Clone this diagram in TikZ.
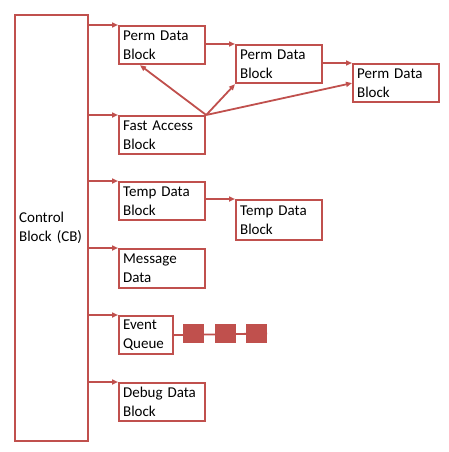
\documentclass[tikz,border=0pt]{standalone}
\usepackage{fontspec}
\setmainfont{Carlito}
\usetikzlibrary{arrows.meta,calc}
\definecolor{cbred}{HTML}{C0504D}
\begin{document}
\begin{tikzpicture}[x=1pt,y=-1pt,
  box/.style={draw=cbred,line width=2.2pt,fill=white,anchor=north west,
    minimum width=86pt,minimum height=38pt,inner xsep=4pt,inner ysep=0pt,
    text width=78pt,align=left,font=\fontsize{15pt}{19pt}\selectfont},
  conn/.style={draw=cbred,line width=1.8pt,-{Triangle[length=6pt,width=5pt]}},
  sq/.style={fill=cbred,draw=none,minimum width=21pt,minimum height=19pt,inner sep=0pt}]
\useasboundingbox (0,0) rectangle (449,452);
\node[box,minimum width=73pt,minimum height=426pt,text width=65pt] (cb) at (14,14) {Control\\Block (CB)};
\node[box] (pd1) at (118,25) {Perm Data\\Block};
\node[box] (pd2) at (235,44) {Perm Data\\Block};
\node[box] (pd3) at (352,63) {Perm Data\\Block};
\node[box] (fa) at (118,115) {Fast Access\\Block};
\node[box] (td1) at (118,181) {Temp Data\\Block};
\node[box,minimum height=40pt] (td2) at (235,199) {Temp Data\\Block};
\node[box,minimum height=39pt] (md) at (118,248) {Message\\Data};
\node[box,minimum width=54pt,text width=46pt] (eq) at (118,315) {Event\\Queue};
\node[box] (dd) at (118,382) {Debug Data\\Block};
\node[sq] (s1) at (193.5,333.5) {};
\node[sq] (s2) at (225,333.5) {};
\node[sq] (s3) at (256.5,333.5) {};
\draw[cbred,line width=1.8pt] (eq.east) -- (s3.east);
\node[sq] at (s1) {};
\node[sq] at (s2) {};
\node[sq] at (s3) {};
\foreach \n in {pd1,fa,td1,md,eq,dd}
  \draw[conn] (\n.north west -| cb.east) -- (\n.north west);
\draw[conn] (pd1.east |- pd2.north west) -- (pd2.north west);
\draw[conn] (pd2.east |- pd3.north west) -- (pd3.north west);
\draw[conn] (td1.east |- td2.north west) -- (td2.north west);
\draw[conn] (fa.north east) -- ($(pd1.south west)!0.25!(pd1.south east)$);
\draw[conn] (fa.north east) -- (pd2.south west);
\draw[conn] (fa.north east) -- (pd3.west);
\end{tikzpicture}
\end{document}
